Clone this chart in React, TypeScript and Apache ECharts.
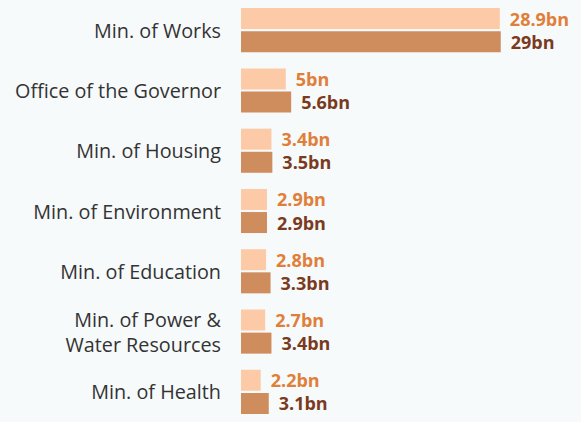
import React, { useEffect, useRef } from "react";
import * as echarts from "echarts";

const categories = [
  "Min. of Works",
  "Office of the Governor",
  "Min. of Housing",
  "Min. of Environment",
  "Min. of Education",
  "Min. of Power &\nWater Resources",
  "Min. of Health",
];
const lightValues = [28.9, 5, 3.4, 2.9, 2.8, 2.7, 2.2];
const darkValues = [29, 5.6, 3.5, 2.9, 3.3, 3.4, 3.1];

const FONT = "'Open Sans', 'Noto Sans', sans-serif";

export default function App() {
  const ref = useRef<HTMLDivElement>(null);
  useEffect(() => {
    const chart = echarts.init(ref.current!, null, { renderer: "svg" });
    chart.setOption({
      animation: false,
      backgroundColor: "#f7fafb",
      grid: { left: 241, top: -1.7, width: 268.7, height: 429.3 },
      xAxis: { type: "value", min: 0, max: 30, show: false },
      yAxis: {
        type: "category",
        data: categories,
        inverse: true,
        axisLine: { show: false },
        axisTick: { show: false },
        axisLabel: {
          margin: 20,
          fontSize: 19.8,
          fontFamily: FONT,
          color: "#333333",
          align: "right",
          lineHeight: 25,
        },
      },
      series: [
        {
          type: "bar",
          data: lightValues,
          barWidth: 21,
          barGap: "10%",
          itemStyle: { color: "#fdcaa7" },
          label: {
            show: true,
            position: "right",
            distance: 10,
            formatter: (p: any) => `${p.value}bn`,
            color: "#e07f3a",
            fontSize: 18,
            fontWeight: "bold",
            fontFamily: FONT,
          },
        },
        {
          type: "bar",
          data: darkValues,
          barWidth: 21,
          barGap: "10%",
          itemStyle: { color: "#cf8c5c" },
          label: {
            show: true,
            position: "right",
            distance: 10,
            formatter: (p: any) => `${p.value}bn`,
            color: "#7a3a1e",
            fontSize: 18,
            fontWeight: "bold",
            fontFamily: FONT,
          },
        },
      ],
    });
    return () => chart.dispose();
  }, []);
  return (
    <div
      ref={ref}
      style={{ position: "fixed", left: 0, top: 0, width: 581, height: 422 }}
    />
  );
}
